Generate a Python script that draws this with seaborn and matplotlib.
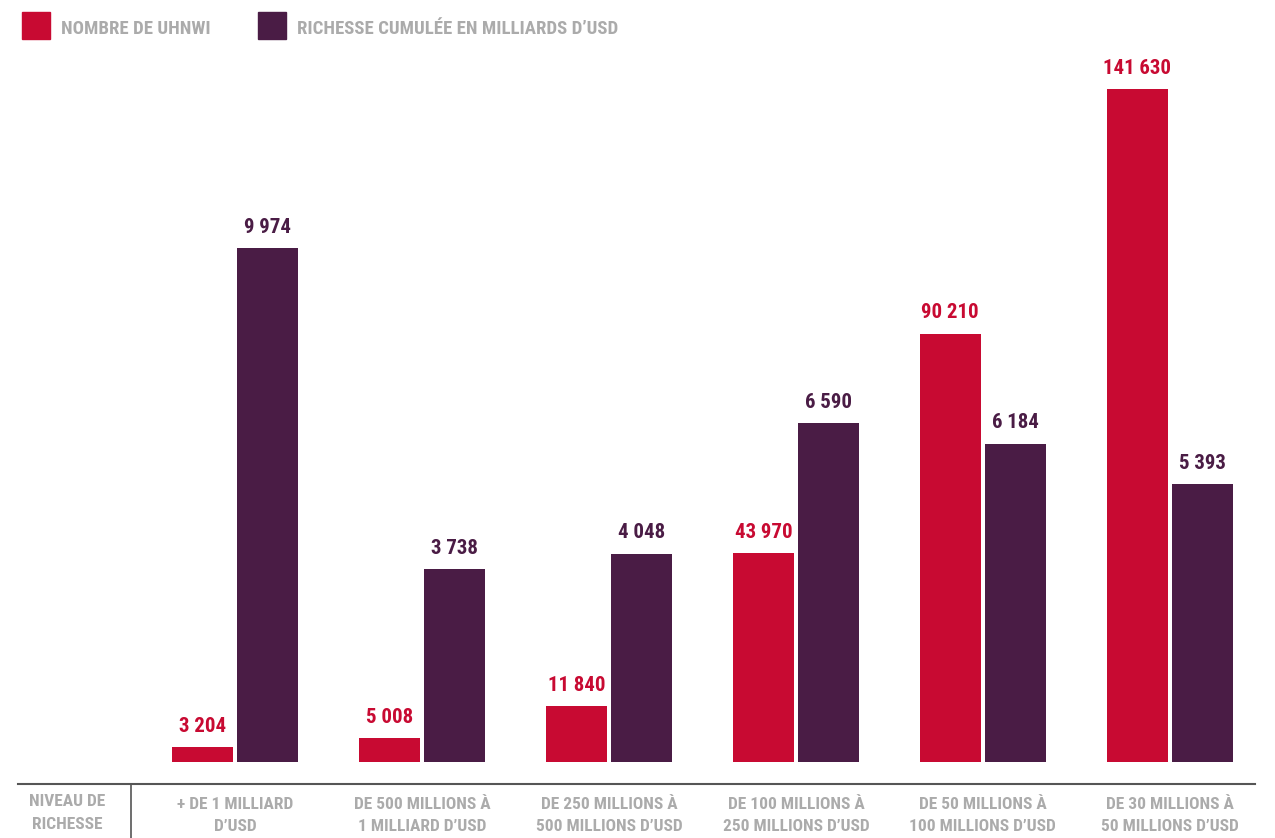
import pandas as pd
import seaborn as sns
import matplotlib.pyplot as plt

# data
categories = ['+ DE 1 MILLIARD\nD\u2019USD',
              'DE 500 MILLIONS \u00c0\n1 MILLIARD D\u2019USD',
              'DE 250 MILLIONS \u00c0\n500 MILLIONS D\u2019USD',
              'DE 100 MILLIONS \u00c0\n250 MILLIONS D\u2019USD',
              'DE 50 MILLIONS \u00c0\n100 MILLIONS D\u2019USD',
              'DE 30 MILLIONS \u00c0\n50 MILLIONS D\u2019USD']
uhnwi_count = [3204, 5008, 11840, 43970, 90210, 141630]
wealth_busd = [9974, 3738, 4048, 6590, 6184, 5393]
series_names = ['NOMBRE DE UHNWI', 'RICHESSE CUMUL\u00c9E EN MILLIARDS D\u2019USD']

RED = '#C80A32'
PURPLE = '#4A1C45'
GRAY = '#ABABAB'
FONT = ['Roboto Condensed', 'DejaVu Sans']

sns.set_style('white')
plt.rcParams['font.family'] = FONT
plt.rcParams['font.weight'] = 'bold'


def fmt(v):
    # french style thousands separator
    return f'{v:,}'.replace(',', ' ')


df_red = pd.DataFrame({'cat': categories, 'value': uhnwi_count, 'serie': series_names[0]})
df_purple = pd.DataFrame({'cat': categories, 'value': wealth_busd, 'serie': series_names[1]})

fig = plt.figure(figsize=(12.75, 8.38), dpi=100)
W, H = 1275, 838
# axes box in pixels: left 18, right 1255, bottom line at 784, top 60
ax = fig.add_axes([18 / W, 1 - 784 / H, (1255 - 18) / W, (784 - 60) / H])
ax2 = ax.twinx()

pal = {series_names[0]: RED, series_names[1]: PURPLE}
sns.barplot(data=df_red, x='cat', y='value', hue='serie', hue_order=series_names,
            order=categories, palette=pal, width=0.697, gap=0.062, dodge=True,
            ax=ax, legend=False, saturation=1, errorbar=None, linewidth=0)
sns.barplot(data=df_purple, x='cat', y='value', hue='serie', hue_order=series_names,
            order=categories, palette=pal, width=0.697, gap=0.062, dodge=True,
            ax=ax2, legend=False, saturation=1, errorbar=None, linewidth=0)

# scales: bars start 22 px above the axis line
red_px = 0.00475
pur_px = 0.0515
ax.set_ylim(-22 / red_px, 702 / red_px)
ax2.set_ylim(-22 / pur_px, 702 / pur_px)
ax.set_xlim(-1.163, 5.457)

# value labels
for a, col in [(ax, RED), (ax2, PURPLE)]:
    for p in a.patches:
        h = p.get_height()
        if h != h or h == 0:
            continue
        a.annotate(fmt(int(round(h))), (p.get_x() + p.get_width() / 2, h),
                   xytext=(0, 8), textcoords='offset points',
                   ha='center', va='bottom', fontsize=15, color=col,
                   fontweight='bold')

for a in (ax, ax2):
    a.set_yticks([])
    a.set_ylabel('')
    a.set_xlabel('')
    for s in ['top', 'left', 'right', 'bottom']:
        a.spines[s].set_visible(False)

ax.spines['bottom'].set_visible(True)
ax.spines['bottom'].set_color('#555555')
ax.spines['bottom'].set_linewidth(1.5)
ax.tick_params(axis='x', length=0, pad=9, labelsize=12.5, labelcolor=GRAY)
for t in ax.get_xticklabels():
    t.set_fontweight('bold')
    t.set_linespacing(1.6)
ax2.tick_params(axis='x', length=0)

# left header and separator
fig.text(67 / W, 1 - 813 / H, 'NIVEAU DE\nRICHESSE', ha='center', va='center',
         fontsize=12.5, color=GRAY, fontweight='bold', linespacing=1.6)
fig.add_artist(plt.Line2D([131 / W, 131 / W], [1 - 784 / H, 0],
                          color='#555555', lw=1.2))

# legend on top
for x0, col, name in [(22, RED, series_names[0]), (258, PURPLE, series_names[1])]:
    fig.add_artist(plt.Rectangle((x0 / W, 1 - 39 / H), 28 / W, 27 / H,
                                 color=col, transform=fig.transFigure))
    fig.text((x0 + 39) / W, 1 - 29 / H, name, ha='left', va='center',
             fontsize=13.5, color=GRAY, fontweight='bold')

fig.savefig('out.png', dpi=100)
